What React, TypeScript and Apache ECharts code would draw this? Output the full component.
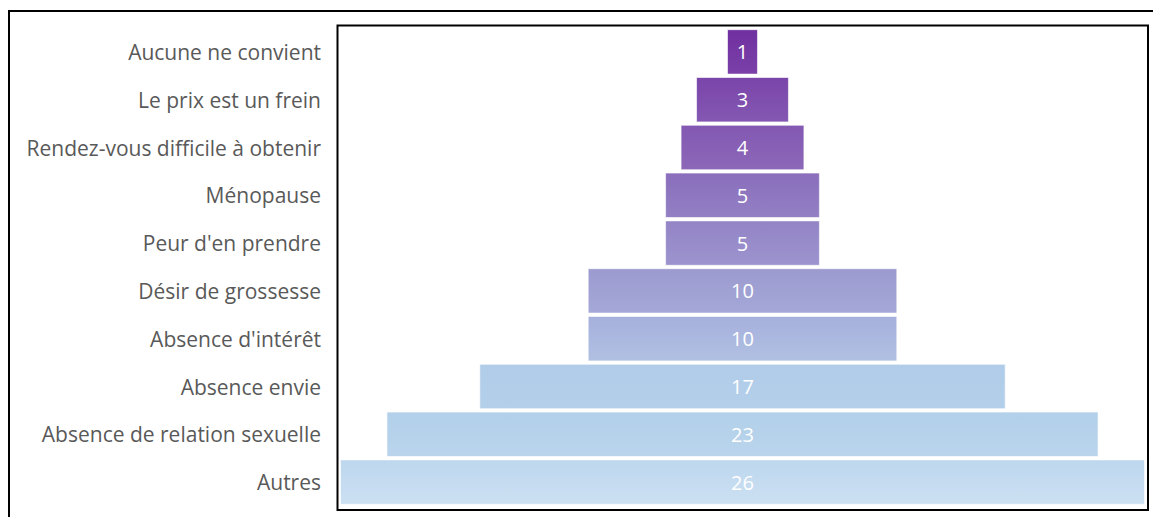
import React, { useEffect, useRef } from "react";
import * as echarts from "echarts";

const categories = [
  "Aucune ne convient",
  "Le prix est un frein",
  "Rendez-vous difficile à obtenir",
  "Ménopause",
  "Peur d'en prendre",
  "Désir de grossesse",
  "Absence d'intérêt",
  "Absence envie",
  "Absence de relation sexuelle",
  "Autres",
];
const values = [1, 3, 4, 5, 5, 10, 10, 17, 23, 26];
const topColors = ["#7030A0", "#7A45AA", "#8358B2", "#8A6EBC", "#9484C6", "#9C9ACF", "#A6B0DC", "#B0CCE8", "#B2D0EA", "#BDD7EE"];
const bottomColors = ["#7A40A8", "#8458B2", "#8C68B8", "#9380C4", "#9C94CE", "#A4A8D8", "#B0C0E2", "#B4CFEA", "#BAD4EC", "#CCE0F2"];

export default function App() {
  const ref = useRef<HTMLDivElement>(null);
  useEffect(() => {
    if (!ref.current) return;
    const chart = echarts.init(ref.current, null, { renderer: "svg" });
    const maxV = Math.max(...values);
    chart.setOption({
      animation: false,
      grid: { left: 340, right: 8, top: 28, bottom: 11, containLabel: false },
      xAxis: { type: "value", min: 0, max: maxV, show: false },
      yAxis: {
        type: "category",
        data: categories,
        inverse: true,
        axisLine: { show: false },
        axisTick: { show: false },
        axisLabel: { color: "#595959", fontSize: 21, fontFamily: "Open Sans", margin: 19 },
      },
      graphic: [
        { type: "rect", shape: { x: 9, y: 11, width: 1200, height: 600 }, style: { fill: "none", stroke: "#000", lineWidth: 2 }, silent: true },
        { type: "rect", shape: { x: 337.5, y: 25.5, width: 810.5, height: 484.5 }, style: { fill: "none", stroke: "#000", lineWidth: 2 }, silent: true, z: 10 },
      ],
      series: [
        {
          type: "bar",
          stack: "p",
          data: values.map((v) => (maxV - v) / 2),
          itemStyle: { color: "transparent" },
          silent: true,
          barCategoryGap: "5%",
        },
        {
          type: "bar",
          stack: "p",
          data: values.map((v, i) => ({
            value: v,
            itemStyle: {
              color: new echarts.graphic.LinearGradient(0, 0, 0, 1, [
                { offset: 0, color: topColors[i] },
                { offset: 1, color: bottomColors[i] },
              ]),
            },
          })),
          itemStyle: { borderColor: "rgba(255,255,255,0.6)", borderWidth: 1 },
          label: {
            show: true,
            position: "inside",
            color: "#fff",
            fontSize: 20,
            fontFamily: "Open Sans",
            formatter: (p: any) => String(values[p.dataIndex]),
          },
          barCategoryGap: "5%",
        },
      ],
    });
    return () => chart.dispose();
  }, []);
  return <div ref={ref} style={{ position: "fixed", left: 0, top: 0, width: 1153, height: 517, background: "#fff" }} />;
}
